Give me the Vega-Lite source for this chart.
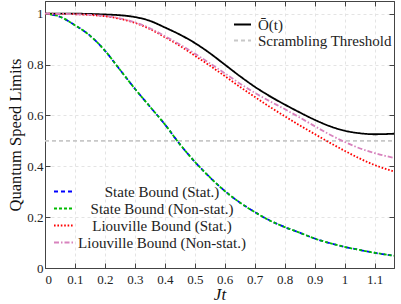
{
  "$schema": "https://vega.github.io/schema/vega-lite/v6.json",
  "width": 349,
  "height": 267,
  "autosize": "none",
  "padding": {"left": 45, "top": 1, "right": 7, "bottom": 36},
  "config": {
    "font": "'Liberation Serif', 'DejaVu Serif', serif",
    "view": {"stroke": "#444", "strokeWidth": 1},
    "axis": {
      "labelFont": "'Liberation Serif', 'DejaVu Serif', serif",
      "titleFont": "'Liberation Serif', 'DejaVu Serif', serif",
      "labelFontSize": 13,
      "labelColor": "#222",
      "titleColor": "#111",
      "titleFontWeight": "normal",
      "domainColor": "#444",
      "tickColor": "#444",
      "tickSize": -5,
      "gridColor": "#e4e4e4",
      "gridDash": [3, 3],
      "gridWidth": 1,
      "labelOverlap": false
    },
    "legend": {"labelFont": "'Liberation Serif', 'DejaVu Serif', serif", "labelColor": "#222", "padding": 0, "titleFontSize": 0, "labelLimit": 400}
  },
  "datasets": {
    "main": [
      {"t": 0, "v": 1, "s": "Ō(t)"},
      {"t": 0.1, "v": 1.0, "s": "Ō(t)"},
      {"t": 0.2, "v": 0.997, "s": "Ō(t)"},
      {"t": 0.25, "v": 0.994, "s": "Ō(t)"},
      {"t": 0.3, "v": 0.987, "s": "Ō(t)"},
      {"t": 0.35, "v": 0.972, "s": "Ō(t)"},
      {"t": 0.4, "v": 0.946, "s": "Ō(t)"},
      {"t": 0.45, "v": 0.918, "s": "Ō(t)"},
      {"t": 0.5, "v": 0.885, "s": "Ō(t)"},
      {"t": 0.55, "v": 0.845, "s": "Ō(t)"},
      {"t": 0.6, "v": 0.8, "s": "Ō(t)"},
      {"t": 0.65, "v": 0.755, "s": "Ō(t)"},
      {"t": 0.7, "v": 0.713, "s": "Ō(t)"},
      {"t": 0.75, "v": 0.676, "s": "Ō(t)"},
      {"t": 0.8, "v": 0.643, "s": "Ō(t)"},
      {"t": 0.85, "v": 0.612, "s": "Ō(t)"},
      {"t": 0.9, "v": 0.583, "s": "Ō(t)"},
      {"t": 0.95, "v": 0.558, "s": "Ō(t)"},
      {"t": 1.0, "v": 0.54, "s": "Ō(t)"},
      {"t": 1.05, "v": 0.53, "s": "Ō(t)"},
      {"t": 1.1, "v": 0.526, "s": "Ō(t)"},
      {"t": 1.165, "v": 0.528, "s": "Ō(t)"},
      {"t": 0, "v": 0.5, "s": "Scrambling Threshold"},
      {"t": 1.165, "v": 0.5, "s": "Scrambling Threshold"}
    ],
    "bounds": [
      {"t": 0, "v": 1, "s": "State Bound (Stat.)"},
      {"t": 0.05, "v": 0.988, "s": "State Bound (Stat.)"},
      {"t": 0.1, "v": 0.955, "s": "State Bound (Stat.)"},
      {"t": 0.15, "v": 0.914, "s": "State Bound (Stat.)"},
      {"t": 0.2, "v": 0.855, "s": "State Bound (Stat.)"},
      {"t": 0.25, "v": 0.78, "s": "State Bound (Stat.)"},
      {"t": 0.3, "v": 0.705, "s": "State Bound (Stat.)"},
      {"t": 0.35, "v": 0.635, "s": "State Bound (Stat.)"},
      {"t": 0.4, "v": 0.565, "s": "State Bound (Stat.)"},
      {"t": 0.45, "v": 0.487, "s": "State Bound (Stat.)"},
      {"t": 0.5, "v": 0.418, "s": "State Bound (Stat.)"},
      {"t": 0.55, "v": 0.357, "s": "State Bound (Stat.)"},
      {"t": 0.6, "v": 0.303, "s": "State Bound (Stat.)"},
      {"t": 0.65, "v": 0.258, "s": "State Bound (Stat.)"},
      {"t": 0.7, "v": 0.22, "s": "State Bound (Stat.)"},
      {"t": 0.75, "v": 0.187, "s": "State Bound (Stat.)"},
      {"t": 0.8, "v": 0.161, "s": "State Bound (Stat.)"},
      {"t": 0.85, "v": 0.139, "s": "State Bound (Stat.)"},
      {"t": 0.9, "v": 0.116, "s": "State Bound (Stat.)"},
      {"t": 0.95, "v": 0.098, "s": "State Bound (Stat.)"},
      {"t": 1.0, "v": 0.083, "s": "State Bound (Stat.)"},
      {"t": 1.05, "v": 0.071, "s": "State Bound (Stat.)"},
      {"t": 1.1, "v": 0.06, "s": "State Bound (Stat.)"},
      {"t": 1.165, "v": 0.048, "s": "State Bound (Stat.)"},
      {"t": 0, "v": 1, "s": "State Bound (Non-stat.)"},
      {"t": 0.05, "v": 0.988, "s": "State Bound (Non-stat.)"},
      {"t": 0.1, "v": 0.955, "s": "State Bound (Non-stat.)"},
      {"t": 0.15, "v": 0.914, "s": "State Bound (Non-stat.)"},
      {"t": 0.2, "v": 0.855, "s": "State Bound (Non-stat.)"},
      {"t": 0.25, "v": 0.78, "s": "State Bound (Non-stat.)"},
      {"t": 0.3, "v": 0.705, "s": "State Bound (Non-stat.)"},
      {"t": 0.35, "v": 0.635, "s": "State Bound (Non-stat.)"},
      {"t": 0.4, "v": 0.565, "s": "State Bound (Non-stat.)"},
      {"t": 0.45, "v": 0.487, "s": "State Bound (Non-stat.)"},
      {"t": 0.5, "v": 0.418, "s": "State Bound (Non-stat.)"},
      {"t": 0.55, "v": 0.357, "s": "State Bound (Non-stat.)"},
      {"t": 0.6, "v": 0.303, "s": "State Bound (Non-stat.)"},
      {"t": 0.65, "v": 0.258, "s": "State Bound (Non-stat.)"},
      {"t": 0.7, "v": 0.22, "s": "State Bound (Non-stat.)"},
      {"t": 0.75, "v": 0.187, "s": "State Bound (Non-stat.)"},
      {"t": 0.8, "v": 0.161, "s": "State Bound (Non-stat.)"},
      {"t": 0.85, "v": 0.139, "s": "State Bound (Non-stat.)"},
      {"t": 0.9, "v": 0.116, "s": "State Bound (Non-stat.)"},
      {"t": 0.95, "v": 0.098, "s": "State Bound (Non-stat.)"},
      {"t": 1.0, "v": 0.083, "s": "State Bound (Non-stat.)"},
      {"t": 1.05, "v": 0.071, "s": "State Bound (Non-stat.)"},
      {"t": 1.1, "v": 0.06, "s": "State Bound (Non-stat.)"},
      {"t": 1.165, "v": 0.048, "s": "State Bound (Non-stat.)"},
      {"t": 0, "v": 1, "s": "Liouville Bound (Stat.)"},
      {"t": 0.1, "v": 0.998, "s": "Liouville Bound (Stat.)"},
      {"t": 0.15, "v": 0.995, "s": "Liouville Bound (Stat.)"},
      {"t": 0.2, "v": 0.99, "s": "Liouville Bound (Stat.)"},
      {"t": 0.25, "v": 0.98, "s": "Liouville Bound (Stat.)"},
      {"t": 0.3, "v": 0.964, "s": "Liouville Bound (Stat.)"},
      {"t": 0.35, "v": 0.94, "s": "Liouville Bound (Stat.)"},
      {"t": 0.4, "v": 0.908, "s": "Liouville Bound (Stat.)"},
      {"t": 0.45, "v": 0.874, "s": "Liouville Bound (Stat.)"},
      {"t": 0.5, "v": 0.835, "s": "Liouville Bound (Stat.)"},
      {"t": 0.55, "v": 0.796, "s": "Liouville Bound (Stat.)"},
      {"t": 0.6, "v": 0.755, "s": "Liouville Bound (Stat.)"},
      {"t": 0.65, "v": 0.713, "s": "Liouville Bound (Stat.)"},
      {"t": 0.7, "v": 0.673, "s": "Liouville Bound (Stat.)"},
      {"t": 0.75, "v": 0.634, "s": "Liouville Bound (Stat.)"},
      {"t": 0.8, "v": 0.597, "s": "Liouville Bound (Stat.)"},
      {"t": 0.85, "v": 0.561, "s": "Liouville Bound (Stat.)"},
      {"t": 0.9, "v": 0.527, "s": "Liouville Bound (Stat.)"},
      {"t": 0.95, "v": 0.493, "s": "Liouville Bound (Stat.)"},
      {"t": 1.0, "v": 0.461, "s": "Liouville Bound (Stat.)"},
      {"t": 1.05, "v": 0.431, "s": "Liouville Bound (Stat.)"},
      {"t": 1.1, "v": 0.405, "s": "Liouville Bound (Stat.)"},
      {"t": 1.165, "v": 0.38, "s": "Liouville Bound (Stat.)"},
      {"t": 0, "v": 1, "s": "Liouville Bound (Non-stat.)"},
      {"t": 0.1, "v": 0.998, "s": "Liouville Bound (Non-stat.)"},
      {"t": 0.2, "v": 0.991, "s": "Liouville Bound (Non-stat.)"},
      {"t": 0.3, "v": 0.966, "s": "Liouville Bound (Non-stat.)"},
      {"t": 0.35, "v": 0.943, "s": "Liouville Bound (Non-stat.)"},
      {"t": 0.4, "v": 0.912, "s": "Liouville Bound (Non-stat.)"},
      {"t": 0.45, "v": 0.879, "s": "Liouville Bound (Non-stat.)"},
      {"t": 0.5, "v": 0.843, "s": "Liouville Bound (Non-stat.)"},
      {"t": 0.55, "v": 0.805, "s": "Liouville Bound (Non-stat.)"},
      {"t": 0.6, "v": 0.766, "s": "Liouville Bound (Non-stat.)"},
      {"t": 0.65, "v": 0.726, "s": "Liouville Bound (Non-stat.)"},
      {"t": 0.7, "v": 0.689, "s": "Liouville Bound (Non-stat.)"},
      {"t": 0.75, "v": 0.656, "s": "Liouville Bound (Non-stat.)"},
      {"t": 0.8, "v": 0.625, "s": "Liouville Bound (Non-stat.)"},
      {"t": 0.85, "v": 0.592, "s": "Liouville Bound (Non-stat.)"},
      {"t": 0.9, "v": 0.558, "s": "Liouville Bound (Non-stat.)"},
      {"t": 0.95, "v": 0.525, "s": "Liouville Bound (Non-stat.)"},
      {"t": 1.0, "v": 0.496, "s": "Liouville Bound (Non-stat.)"},
      {"t": 1.05, "v": 0.471, "s": "Liouville Bound (Non-stat.)"},
      {"t": 1.1, "v": 0.452, "s": "Liouville Bound (Non-stat.)"},
      {"t": 1.165, "v": 0.433, "s": "Liouville Bound (Non-stat.)"}
    ]
  },
  "layer": [
    {
      "layer": [
        {
          "data": {"name": "main"},
          "mark": {"type": "line", "strokeWidth": 1.8, "interpolate": "monotone"},
          "encoding": {
            "x": {"field": "t", "type": "quantitative",
              "scale": {"domain": [0, 1.165], "nice": false, "zero": false},
              "axis": {"title": "Jt", "titleFontStyle": "italic", "titleFontSize": 17, "titlePadding": 0,
                "values": [0, 0.1, 0.2, 0.3, 0.4, 0.5, 0.6, 0.7, 0.8, 0.9, 1, 1.1], "format": "~g", "labelPadding": 10}},
            "y": {"field": "v", "type": "quantitative",
              "scale": {"domain": [0, 1.05], "nice": false},
              "axis": {"title": "Quantum Speed Limits", "titleFontSize": 16.5, "titlePadding": 3,
                "values": [0, 0.2, 0.4, 0.6, 0.8, 1], "format": "~g", "labelPadding": 7}},
            "color": {"field": "s", "type": "nominal",
              "scale": {"domain": ["Ō(t)", "Scrambling Threshold"], "range": ["#000000", "#c8c8c8"]},
              "legend": {"orient": "none", "legendX": 188, "legendY": 17, "symbolType": "stroke", "symbolSize": 289,
                "symbolStrokeWidth": 1.8, "labelFontSize": 15, "labelOffset": 6, "rowPadding": 0, "clipHeight": 13, "title": null}},
            "strokeDash": {"field": "s", "type": "nominal",
              "scale": {"domain": ["Ō(t)", "Scrambling Threshold"], "range": [[1, 0], [4, 3]]},
              "legend": {"orient": "none", "legendX": 188, "legendY": 17, "title": null}}
          }
        },
        {
          "data": {"name": "bounds"},
          "mark": {"type": "line", "strokeWidth": 1.8, "interpolate": "monotone"},
          "encoding": {
            "x": {"field": "t", "type": "quantitative",
              "axis": {"title": "Jt", "titleFontStyle": "italic", "titleFontSize": 17, "titlePadding": 0,
                "values": [0, 0.1, 0.2, 0.3, 0.4, 0.5, 0.6, 0.7, 0.8, 0.9, 1, 1.1], "format": "~g", "labelPadding": 10}},
            "y": {"field": "v", "type": "quantitative",
              "axis": {"title": "Quantum Speed Limits", "titleFontSize": 16.5, "titlePadding": 3,
                "values": [0, 0.2, 0.4, 0.6, 0.8, 1], "format": "~g", "labelPadding": 7}},
            "color": {"field": "s", "type": "nominal",
              "scale": {"domain": ["State Bound (Stat.)", "State Bound (Non-stat.)", "Liouville Bound (Stat.)", "Liouville Bound (Non-stat.)"],
                "range": ["#0000ff", "#00bb00", "#ff0000", "#d882bd"]},
              "legend": {"orient": "none", "legendX": 8, "legendY": 182, "symbolType": "stroke", "symbolSize": 361,
                "symbolStrokeWidth": 1.8, "labelFontSize": 15, "labelAlign": "center", "labelOffset": 88, "rowPadding": 0, "clipHeight": 17, "title": null}},
            "strokeDash": {"field": "s", "type": "nominal",
              "scale": {"domain": ["State Bound (Stat.)", "State Bound (Non-stat.)", "Liouville Bound (Stat.)", "Liouville Bound (Non-stat.)"],
                "range": [[4, 3], [3, 2], [1.6, 1.8], [5, 2, 1.5, 2]]},
              "legend": {"orient": "none", "legendX": 8, "legendY": 182, "title": null}}
          }
        }
      ],
      "resolve": {"scale": {"color": "independent", "strokeDash": "independent"}}
    },
    {
      "data": {"name": "main"},
      "mark": {"type": "point", "opacity": 0},
      "encoding": {
        "x": {"field": "t", "type": "quantitative",
          "axis": {"orient": "top", "labels": false, "title": null, "grid": false, "values": [0, 0.1, 0.2, 0.3, 0.4, 0.5, 0.6, 0.7, 0.8, 0.9, 1, 1.1]}},
        "y": {"field": "v", "type": "quantitative",
          "axis": {"orient": "right", "labels": false, "title": null, "grid": false, "values": [0, 0.2, 0.4, 0.6, 0.8, 1]}}
      }
    }
  ],
  "resolve": {"axis": {"x": "independent", "y": "independent"}}
}
